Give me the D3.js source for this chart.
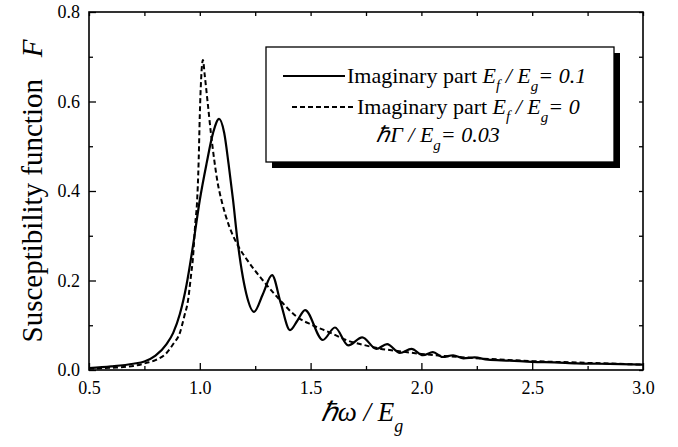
<!DOCTYPE html>
<html lang="en">
<head>
<meta charset="utf-8">
<title>Susceptibility function</title>
<script src="https://d3js.org/d3.v7.min.js"></script>
<style>
body { margin: 0; background: #fff; }
svg { font-family: "Liberation Serif", "Times New Roman", serif; }
.tick text { font-family: "Liberation Serif", "Times New Roman", serif; font-size: 18px; fill: #000; }
.tick line { stroke: #000; stroke-width: 1.3; }
.domain { display: none; }
</style>
</head>
<body>
<div id="chart"></div>
<script>
// imaginary part, Ef/Eg = 0.1 (solid)
var solidX = [0.50, 0.60, 0.70, 0.75, 0.80, 0.85, 0.88, 0.91, 0.94, 0.97, 1.00, 1.03, 1.06, 1.087,
  1.11, 1.13, 1.15, 1.17, 1.19, 1.21, 1.245, 1.285, 1.326, 1.365, 1.407, 1.44, 1.475, 1.555,
  1.61, 1.67, 1.733, 1.797, 1.845, 1.903, 1.955, 2.007, 2.052, 2.097, 2.143, 2.19, 2.24, 2.30,
  2.40, 2.50, 2.60, 2.70, 2.80, 2.90, 3.00];
var solidY = [0.004, 0.008, 0.014, 0.019, 0.032, 0.058, 0.083, 0.125, 0.19, 0.28, 0.38, 0.46, 0.53, 0.561,
  0.53, 0.46, 0.38, 0.29, 0.22, 0.17, 0.130, 0.17, 0.212, 0.15, 0.089, 0.11, 0.134, 0.067,
  0.095, 0.055, 0.073, 0.047, 0.058, 0.038, 0.047, 0.033, 0.040, 0.029, 0.033, 0.026, 0.028, 0.023,
  0.021, 0.018, 0.017, 0.015, 0.014, 0.013, 0.012];

// imaginary part, Ef/Eg = 0 (dashed)
var dashX = [0.50, 0.60, 0.70, 0.76, 0.80, 0.85, 0.88, 0.91, 0.93, 0.947, 0.96, 0.969, 0.98, 0.987,
  0.995, 1.000, 1.006, 1.014, 1.022, 1.035, 1.05, 1.065, 1.08, 1.10, 1.13, 1.17, 1.215, 1.285,
  1.362, 1.44, 1.51, 1.59, 1.66, 1.74, 1.80, 1.90, 2.00, 2.20, 2.50, 2.75, 3.00];
var dashY = [0.003, 0.005, 0.009, 0.016, 0.022, 0.038, 0.058, 0.083, 0.12, 0.156, 0.21, 0.25, 0.33, 0.37,
  0.47, 0.57, 0.65, 0.693, 0.66, 0.60, 0.53, 0.47, 0.42, 0.375, 0.325, 0.28, 0.245, 0.20,
  0.156, 0.118, 0.10, 0.083, 0.067, 0.056, 0.049, 0.042, 0.036, 0.028, 0.020, 0.016, 0.012];

var xMajor = [0.5, 1.0, 1.5, 2.0, 2.5, 3.0];
var xMinor = [0.75, 1.25, 1.75, 2.25, 2.75];
var yMajor = [0.0, 0.2, 0.4, 0.6, 0.8];
var yMinor = [0.1, 0.3, 0.5, 0.7];

var w = 678, h = 447;
var mLeft = 89, mRight = 643, mTop = 12, mBottom = 370;

var svg = d3.select("#chart").append("svg")
  .attr("width", w).attr("height", h);

var x = d3.scaleLinear().domain([0.5, 3.0]).range([mLeft, mRight]);
var y = d3.scaleLinear().domain([0, 0.8]).range([mBottom, mTop]);

// axes: ticks pointing inward on all four sides
svg.append("g").attr("transform", "translate(0," + mBottom + ")")
  .call(d3.axisBottom(x).tickValues(xMajor).tickSize(-7).tickPadding(11).tickFormat(d3.format(".1f")));
svg.append("g").attr("transform", "translate(0," + mBottom + ")")
  .call(d3.axisBottom(x).tickValues(xMinor).tickSize(-4).tickFormat(""));
svg.append("g").attr("transform", "translate(0," + mTop + ")")
  .call(d3.axisTop(x).tickValues(xMajor.concat(xMinor)).tickSize(-4).tickFormat(""));

svg.append("g").attr("transform", "translate(" + mLeft + ",0)")
  .call(d3.axisLeft(y).tickValues(yMajor).tickSize(-7).tickPadding(9).tickFormat(d3.format(".1f")));
svg.append("g").attr("transform", "translate(" + mLeft + ",0)")
  .call(d3.axisLeft(y).tickValues(yMinor).tickSize(-4).tickFormat(""));
svg.append("g").attr("transform", "translate(" + mRight + ",0)")
  .call(d3.axisRight(y).tickValues(yMajor.concat(yMinor)).tickSize(-4).tickFormat(""));

// curves
var line = d3.line()
  .x(d => x(d[0])).y(d => y(d[1]))
  .curve(d3.curveMonotoneX);

svg.append("path")
  .attr("d", line(d3.zip(dashX, dashY)))
  .attr("fill", "none").attr("stroke", "#000")
  .attr("stroke-width", 2).attr("stroke-dasharray", "5,3");

svg.append("path")
  .attr("d", line(d3.zip(solidX, solidY)))
  .attr("fill", "none").attr("stroke", "#000")
  .attr("stroke-width", 2.2);

// frame
svg.append("rect")
  .attr("x", mLeft).attr("y", mTop)
  .attr("width", mRight - mLeft).attr("height", mBottom - mTop)
  .attr("fill", "none").attr("stroke", "#000").attr("stroke-width", 1.6);

// axis titles
var xt = svg.append("text")
  .attr("x", 362).attr("y", 421)
  .attr("text-anchor", "middle")
  .attr("font-size", 27).attr("font-style", "italic");
xt.append("tspan").text("\u210F\u03C9 / E");
xt.append("tspan").attr("dy", 11).attr("font-size", 18).text("g");

var yt = svg.append("text")
  .attr("transform", "translate(42," + (mTop + mBottom) / 2 + ") rotate(-90)")
  .attr("text-anchor", "middle")
  .attr("font-size", 29);
yt.append("tspan").text("Susceptibility function\u2002 ");
yt.append("tspan").attr("font-style", "italic").text("F");

// legend
var lg = svg.append("g");
lg.append("rect")
  .attr("x", 272).attr("y", 53).attr("width", 348).attr("height", 115)
  .attr("fill", "#000");
lg.append("rect")
  .attr("x", 266).attr("y", 47).attr("width", 348).attr("height", 115)
  .attr("fill", "#fff").attr("stroke", "#000").attr("stroke-width", 1.3);

lg.append("line")
  .attr("x1", 283).attr("x2", 345).attr("y1", 76).attr("y2", 76)
  .attr("stroke", "#000").attr("stroke-width", 2.2);
lg.append("line")
  .attr("x1", 292).attr("x2", 355).attr("y1", 107).attr("y2", 107)
  .attr("stroke", "#000").attr("stroke-width", 2).attr("stroke-dasharray", "5,3");

function legendText(xp, yp, value) {
  var t = lg.append("text").attr("x", xp).attr("y", yp).attr("font-size", 22);
  t.append("tspan").text("Imaginary part ");
  t.append("tspan").attr("font-style", "italic").text("E");
  t.append("tspan").attr("font-style", "italic").attr("font-size", 15).attr("dy", 7).text("f");
  t.append("tspan").attr("font-style", "italic").attr("dy", -7).text(" / E");
  t.append("tspan").attr("font-style", "italic").attr("font-size", 15).attr("dy", 8).text("g");
  t.append("tspan").attr("font-style", "italic").attr("dy", -8).text("= " + value);
}
legendText(347, 83, "0.1");
legendText(357, 114, "0");

var lt = lg.append("text").attr("x", 438).attr("y", 142)
  .attr("text-anchor", "middle").attr("font-size", 22).attr("font-style", "italic");
lt.append("tspan").text("\u210F\u0393 / E");
lt.append("tspan").attr("font-size", 15).attr("dy", 8).text("g");
lt.append("tspan").attr("dy", -8).text("= 0.03");
</script>
</body>
</html>
